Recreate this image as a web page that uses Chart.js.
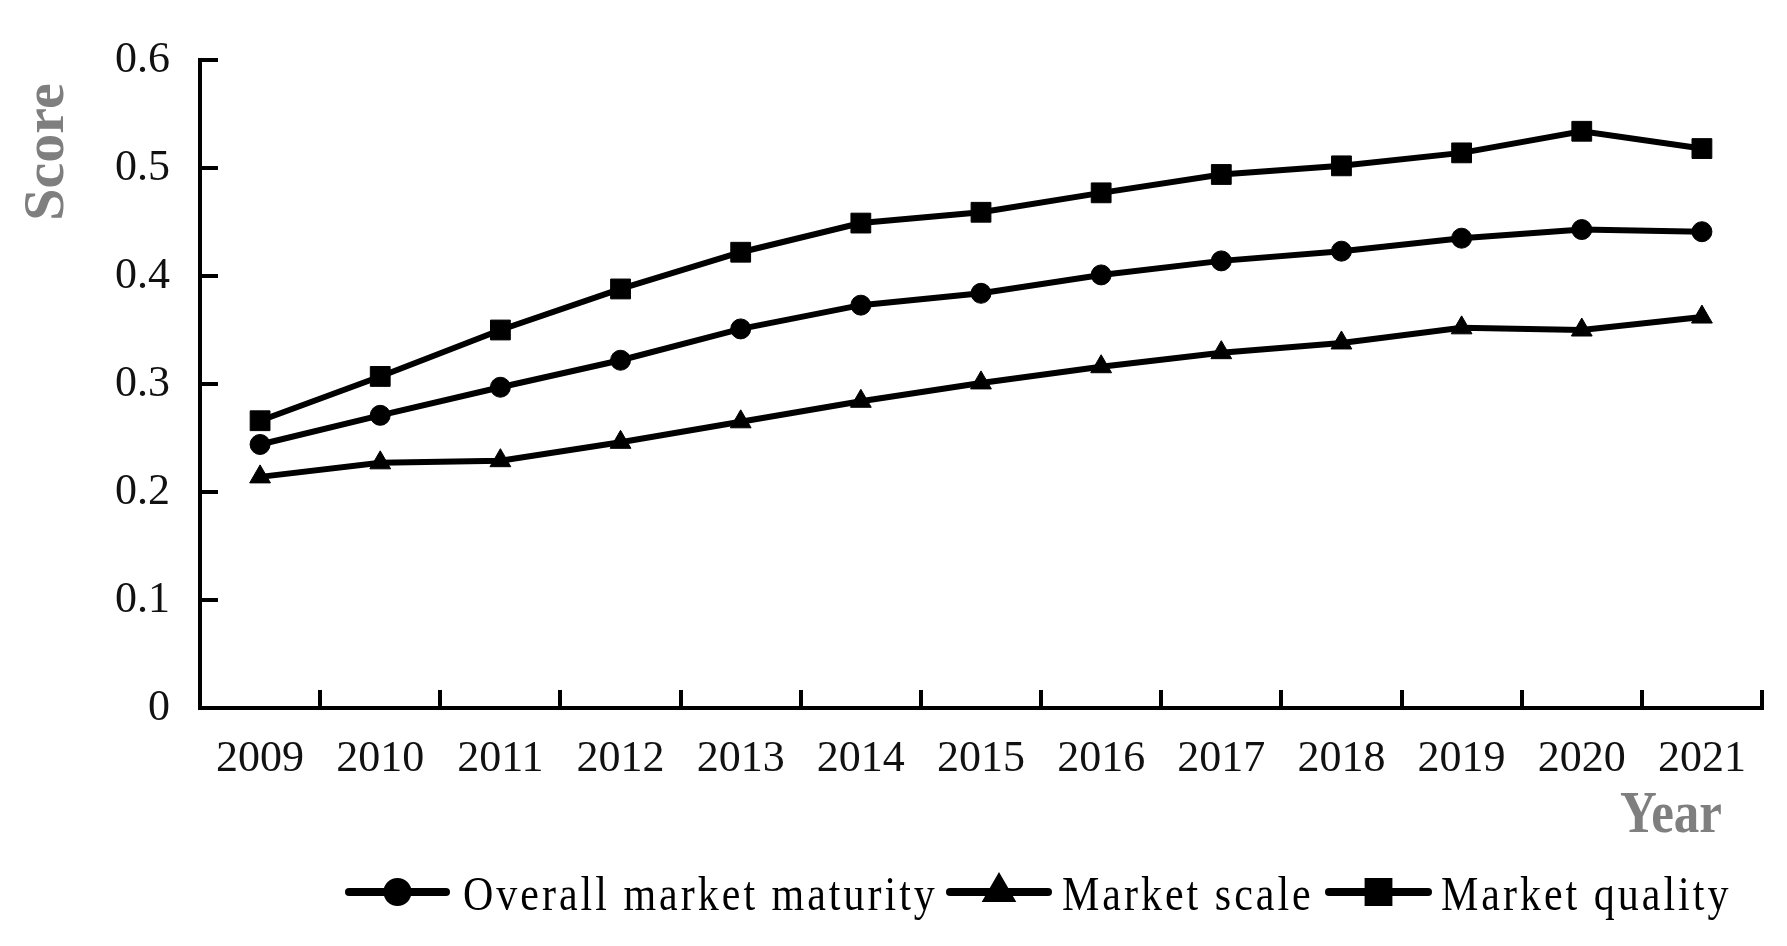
<!DOCTYPE html>
<html>
<head>
<meta charset="utf-8">
<script src="https://cdn.jsdelivr.net/npm/chart.js@4/dist/chart.umd.min.js"></script>
<style>
  html, body { margin: 0; padding: 0; background: #fff; }
  #wrap { width: 1787px; height: 946px; }
</style>
</head>
<body>
<div id="wrap"><canvas id="c" width="1787" height="946"></canvas></div>
<script>
const years = ['2009','2010','2011','2012','2013','2014','2015','2016','2017','2018','2019','2020','2021'];
const overallMaturity = [0.244, 0.271, 0.297, 0.322, 0.351, 0.373, 0.384, 0.401, 0.414, 0.423, 0.435, 0.443, 0.441];
const marketScale     = [0.214, 0.227, 0.229, 0.246, 0.265, 0.284, 0.301, 0.316, 0.329, 0.338, 0.352, 0.350, 0.362];
const marketQuality   = [0.266, 0.307, 0.350, 0.388, 0.422, 0.449, 0.459, 0.477, 0.494, 0.502, 0.514, 0.534, 0.518];
const seriesNames = ['Overall market maturity', 'Market scale', 'Market quality'];
const yTickValues = [0, 0.1, 0.2, 0.3, 0.4, 0.5, 0.6];
const yAxisTitle = 'Score';
const xAxisTitle = 'Year';

const SERIF = "'Liberation Serif', 'Times New Roman', serif";

const pointStyles = ['circle', 'triangle', 'rect'];
const pointRadii = [10, 12, 14];

// Inward tick marks on both axes, drawn from the scales
const innerTicks = {
  id: 'innerTicks',
  afterDraw(chart) {
    const ctx = chart.ctx;
    const xs = chart.scales.x, ys = chart.scales.y;
    const area = chart.chartArea;
    ctx.save();
    ctx.strokeStyle = '#000';
    ctx.lineWidth = 4;
    ctx.lineCap = 'butt';
    ctx.beginPath();
    yTickValues.forEach(v => {
      if (v === 0) return;
      const y = Math.round(ys.getPixelForValue(v));
      ctx.moveTo(area.left - 2, y);
      ctx.lineTo(area.left + 18, y);
    });
    for (let k = 1; k <= years.length; k++) {
      const x = Math.round(xs.getPixelForValue(k - 0.5));
      ctx.moveTo(x, area.bottom + 2);
      ctx.lineTo(x, area.bottom - 18);
    }
    ctx.stroke();
    ctx.restore();
  }
};

// Axis titles and legend
const extras = {
  id: 'extras',
  afterDraw(chart) {
    const ctx = chart.ctx;
    ctx.save();
    // Y title
    ctx.fillStyle = '#7f7f7f';
    ctx.font = 'bold 58px ' + SERIF;
    ctx.textAlign = 'center';
    ctx.textBaseline = 'alphabetic';
    ctx.translate(63, 152);
    ctx.rotate(-Math.PI / 2);
    ctx.fillText(yAxisTitle, 0, 0);
    ctx.restore();

    ctx.save();
    ctx.fillStyle = '#7f7f7f';
    ctx.font = 'bold 51px ' + SERIF;
    ctx.textAlign = 'left';
    ctx.textBaseline = 'alphabetic';
    ctx.translate(1620, 832);
    ctx.scale(1, 1.15);
    ctx.fillText(xAxisTitle, 0, 0);
    ctx.restore();

    // Legend
    const items = [
      { x0: 345, x1: 450, tx: 463 },
      { x0: 946, x1: 1052, tx: 1062 },
      { x0: 1325, x1: 1432, tx: 1441 }
    ];
    const ly = 892;
    items.forEach((it, i) => {
      const ds = chart.data.datasets[i];
      ctx.save();
      ctx.strokeStyle = '#000';
      ctx.lineWidth = 8;
      ctx.lineCap = 'round';
      ctx.beginPath();
      ctx.moveTo(it.x0 + 4, ly);
      ctx.lineTo(it.x1 - 4, ly);
      ctx.stroke();
      ctx.fillStyle = '#000';
      Chart.helpers.drawPoint(ctx, {
        pointStyle: ds.pointStyle,
        radius: ds.pointRadius,
        rotation: 0,
        borderWidth: 1
      }, (it.x0 + it.x1) / 2, ly);
      ctx.restore();

      ctx.save();
      ctx.fillStyle = '#000';
      ctx.font = '42px ' + SERIF;
      ctx.textAlign = 'left';
      ctx.textBaseline = 'alphabetic';
      try { ctx.letterSpacing = '3px'; } catch (e) {}
      ctx.translate(it.tx, 910);
      ctx.scale(1, 1.15);
      ctx.fillText(ds.label, 0, 0);
      ctx.restore();
    });
  }
};

const seriesData = [overallMaturity, marketScale, marketQuality];
const datasets = seriesData.map((d, i) => ({
  label: seriesNames[i],
  data: d,
  borderColor: '#000',
  backgroundColor: '#000',
  pointBackgroundColor: '#000',
  pointBorderColor: '#000',
  borderWidth: 6,
  pointStyle: pointStyles[i],
  pointRadius: pointRadii[i],
  pointBorderWidth: 1,
  tension: 0,
  fill: false
}));

new Chart(document.getElementById('c'), {
  type: 'line',
  data: { labels: years, datasets },
  options: {
    responsive: false,
    animation: false,
    devicePixelRatio: 1,
    layout: { padding: { top: 60, right: 25, bottom: 0, left: 0 } },
    plugins: {
      legend: { display: false },
      tooltip: { enabled: false }
    },
    scales: {
      x: {
        type: 'category',
        offset: true,
        grid: { display: false, drawTicks: false, tickLength: 0 },
        border: { display: true, color: '#000', width: 4 },
        ticks: {
          color: '#111',
          padding: 25,
          maxRotation: 0,
          autoSkip: false,
          font: { family: SERIF, size: 44 }
        },
        afterFit(scale) { scale.height = 238; }
      },
      y: {
        min: 0,
        max: 0.6,
        grid: { display: false, drawTicks: false, tickLength: 0 },
        border: { display: true, color: '#000', width: 4 },
        afterBuildTicks(scale) { scale.ticks = yTickValues.map(v => ({ value: v })); },
        ticks: {
          color: '#111',
          padding: 30,
          font: { family: SERIF, size: 44 },
          callback: v => String(Math.round(v * 10) / 10)
        },
        afterFit(scale) { scale.width = 200; }
      }
    }
  },
  plugins: [innerTicks, extras]
});
</script>
</body>
</html>
